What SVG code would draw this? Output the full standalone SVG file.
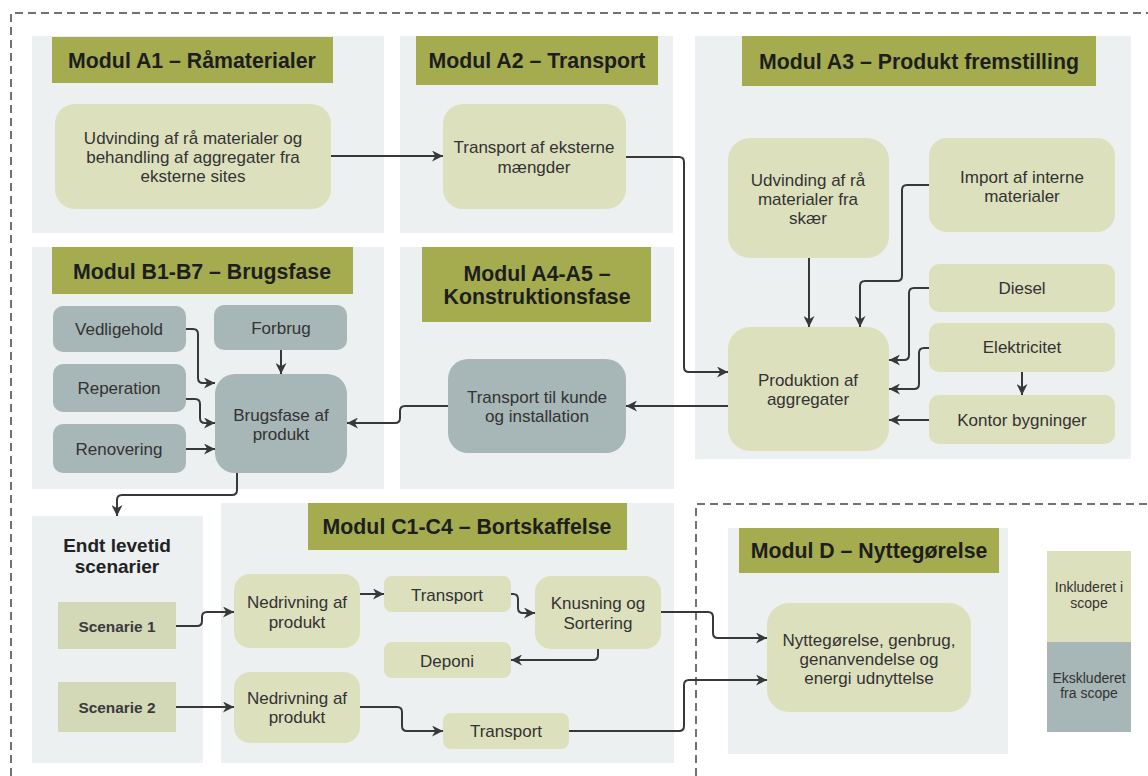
<svg xmlns="http://www.w3.org/2000/svg" width="1148" height="776" viewBox="0 0 1148 776">
<style>
.panel{fill:#ECF0F1}
.title{fill:#A4AC4F}
.inc{fill:#DDE0BD}
.exc{fill:#A7B6B6}
.scen{fill:#D3D8B7}
.tt{font-family:"Liberation Sans",Arial,sans-serif;font-weight:bold;font-size:21.3px;fill:#1E1E1E;text-anchor:middle}
.nt{font-family:"Liberation Sans",Arial,sans-serif;font-size:17px;fill:#333;text-anchor:middle}
.st{font-family:"Liberation Sans",Arial,sans-serif;font-weight:bold;font-size:15.4px;fill:#3a3a3a;text-anchor:middle}
.et{font-family:"Liberation Sans",Arial,sans-serif;font-weight:bold;font-size:19px;fill:#222;text-anchor:middle}
.lt{font-family:"Liberation Sans",Arial,sans-serif;font-size:14px;fill:#333;text-anchor:middle}
.dash{fill:none;stroke:#444;stroke-width:1.5;stroke-dasharray:8 5}
.conn path{fill:none;stroke:#383838;stroke-width:2;marker-end:url(#arr)}
</style>
<defs>
<marker id="arr" viewBox="0 0 10 10" refX="10" refY="5" markerWidth="11" markerHeight="11" markerUnits="userSpaceOnUse" orient="auto">
<path d="M0,0 L10,5 L0,10 L3,5 Z" fill="#383838"/>
</marker>
</defs>
<rect width="1148" height="776" fill="#fff"/>

<g id="scope-lines">
<path class="dash" d="M11,776 V13 H1148"/>
<path class="dash" d="M696,776 V504 H1148"/>
</g>

<g id="panels">
<rect class="panel" x="32" y="36" width="352" height="197"/>
<rect class="panel" x="400" y="36" width="273" height="197"/>
<rect class="panel" x="695" y="36" width="436" height="423"/>
<rect class="panel" x="32" y="247" width="352" height="242"/>
<rect class="panel" x="400" y="247" width="274" height="242"/>
<rect class="panel" x="32" y="516" width="171" height="247"/>
<rect class="panel" x="221" y="503" width="453" height="260"/>
<rect class="panel" x="728" y="528" width="280" height="226"/>
</g>

<g id="title-a1"><rect class="title" x="52" y="37" width="281" height="46"/><text class="tt" x="192" y="68">Modul A1 – Råmaterialer</text></g>
<g id="title-a2"><rect class="title" x="416" y="36" width="242" height="49"/><text class="tt" x="537" y="68">Modul A2 – Transport</text></g>
<g id="title-a3"><rect class="title" x="742" y="36" width="354" height="50"/><text class="tt" x="919" y="69">Modul A3 – Produkt fremstilling</text></g>
<g id="title-b"><rect class="title" x="52" y="247" width="301" height="47"/><text class="tt" x="202" y="279">Modul B1-B7 – Brugsfase</text></g>
<g id="title-a4a5"><rect class="title" x="422" y="247" width="229" height="75"/><text class="tt" x="537" y="281">Modul A4-A5 –</text><text class="tt" x="537" y="304">Konstruktionsfase</text></g>
<g id="title-c"><rect class="title" x="308" y="503" width="319" height="47"/><text class="tt" x="467" y="534">Modul C1-C4 – Bortskaffelse</text></g>
<g id="title-d"><rect class="title" x="739" y="528" width="260" height="45"/><text class="tt" x="869" y="558">Modul D – Nyttegørelse</text></g>

<g id="n-a1"><rect class="inc" x="55" y="104" width="276" height="105" rx="20"/><text class="nt" x="193" y="144">Udvinding af rå materialer og</text><text class="nt" x="193" y="163">behandling af aggregater fra</text><text class="nt" x="193" y="182">eksterne sites</text></g>
<g id="n-a2"><rect class="inc" x="443" y="104" width="183" height="105" rx="20"/><text class="nt" x="534" y="153">Transport af eksterne</text><text class="nt" x="534" y="173">mængder</text></g>
<g id="n-skaer"><rect class="inc" x="728" y="138" width="161" height="120" rx="22"/><text class="nt" x="808" y="186">Udvinding af rå</text><text class="nt" x="808" y="205">materialer fra</text><text class="nt" x="808" y="224">skær</text></g>
<g id="n-import"><rect class="inc" x="929" y="138" width="186" height="94" rx="18"/><text class="nt" x="1022" y="183">Import af interne</text><text class="nt" x="1022" y="202">materialer</text></g>
<g id="n-diesel"><rect class="inc" x="929" y="264" width="186" height="48" rx="10"/><text class="nt" x="1022" y="294">Diesel</text></g>
<g id="n-el"><rect class="inc" x="929" y="323" width="186" height="49" rx="10"/><text class="nt" x="1022" y="353">Elektricitet</text></g>
<g id="n-kontor"><rect class="inc" x="929" y="395" width="186" height="49" rx="10"/><text class="nt" x="1022" y="426">Kontor bygninger</text></g>
<g id="n-prod"><rect class="inc" x="728" y="327" width="161" height="124" rx="22"/><text class="nt" x="808" y="386">Produktion af</text><text class="nt" x="808" y="405">aggregater</text></g>
<g id="n-transport-kunde"><rect class="exc" x="448" y="359" width="178" height="94" rx="20"/><text class="nt" x="537" y="403">Transport til kunde</text><text class="nt" x="537" y="422">og installation</text></g>
<g id="n-brugsfase"><rect class="exc" x="215" y="374" width="132" height="99" rx="20"/><text class="nt" x="281" y="421">Brugsfase af</text><text class="nt" x="281" y="440">produkt</text></g>
<g id="n-vedligehold"><rect class="exc" x="53" y="306" width="133" height="46" rx="10"/><text class="nt" x="119" y="335">Vedligehold</text></g>
<g id="n-forbrug"><rect class="exc" x="214" y="305" width="133" height="45" rx="10"/><text class="nt" x="281" y="334">Forbrug</text></g>
<g id="n-reperation"><rect class="exc" x="53" y="364" width="133" height="48" rx="10"/><text class="nt" x="119" y="394">Reperation</text></g>
<g id="n-renovering"><rect class="exc" x="53" y="424" width="133" height="49" rx="10"/><text class="nt" x="119" y="455">Renovering</text></g>

<g id="n-endt"><text class="et" x="117" y="552">Endt levetid</text><text class="et" x="117" y="573">scenarier</text></g>
<g id="n-scen1"><rect class="scen" x="58" y="602" width="118" height="47"/><text class="st" x="117" y="632">Scenarie 1</text></g>
<g id="n-scen2"><rect class="scen" x="58" y="682" width="118" height="50"/><text class="st" x="117" y="713">Scenarie 2</text></g>
<g id="n-ned1"><rect class="inc" x="234" y="574" width="126" height="74" rx="16"/><text class="nt" x="297" y="608">Nedrivning af</text><text class="nt" x="297" y="628">produkt</text></g>
<g id="n-ned2"><rect class="inc" x="234" y="672" width="126" height="71" rx="16"/><text class="nt" x="297" y="704">Nedrivning af</text><text class="nt" x="297" y="723">produkt</text></g>
<g id="n-transport-c1"><rect class="inc" x="384" y="576" width="127" height="36" rx="8"/><text class="nt" x="447" y="601">Transport</text></g>
<g id="n-knusning"><rect class="inc" x="535" y="576" width="126" height="73" rx="16"/><text class="nt" x="598" y="609">Knusning og</text><text class="nt" x="598" y="629">Sortering</text></g>
<g id="n-deponi"><rect class="inc" x="384" y="642" width="127" height="36" rx="8"/><text class="nt" x="447" y="667">Deponi</text></g>
<g id="n-transport-c2"><rect class="inc" x="443" y="713" width="126" height="36" rx="8"/><text class="nt" x="506" y="737">Transport</text></g>
<g id="n-nytte"><rect class="inc" x="767" y="603" width="204" height="109" rx="22"/><text class="nt" x="869" y="646">Nyttegørelse, genbrug,</text><text class="nt" x="869" y="665">genanvendelse og</text><text class="nt" x="869" y="684">energi udnyttelse</text></g>

<g id="legend">
<rect class="inc" x="1047" y="551" width="84" height="91"/>
<rect class="exc" x="1047" y="642" width="84" height="90"/>
<text class="lt" x="1089" y="592">Inkluderet i</text><text class="lt" x="1089" y="608">scope</text>
<text class="lt" x="1089" y="683">Ekskluderet</text><text class="lt" x="1089" y="698">fra scope</text>
</g>

<g id="connectors" class="conn">
<path d="M331,156 H443"/>
<path d="M626,157 H679 Q684,157 684,162 V367 Q684,372 689,372 H728"/>
<path d="M728,406 H626"/>
<path d="M448,406 H405 Q400,406 400,411 V418 Q400,423 395,423 H347"/>
<path d="M809,258 V327"/>
<path d="M929,185 H907 Q902,185 902,190 V276 Q902,281 897,281 H865 Q860,281 860,286 V327"/>
<path d="M929,288 H914 Q909,288 909,293 V355 Q909,360 904,360 H889"/>
<path d="M929,348 H924 Q919,348 919,353 V384 Q919,389 914,389 H889"/>
<path d="M1022,372 V395"/>
<path d="M929,420 H889"/>
<path d="M186,329 H193 Q198,329 198,334 V378 Q198,383 203,383 H215"/>
<path d="M281,350 V374"/>
<path d="M186,399 H195 Q200,399 200,404 V418 Q200,423 205,423 H215"/>
<path d="M186,449 H215"/>
<path d="M237,473 V490 Q237,495 232,495 H122 Q117,495 117,500 V516"/>
<path d="M176,626 H197 Q202,626 202,621 V617 Q202,612 207,612 H234"/>
<path d="M176,707 H234"/>
<path d="M360,594 H384"/>
<path d="M511,594 H513 Q518,594 518,599 V608 Q518,613 523,613 H535"/>
<path d="M598,649 V655 Q598,660 593,660 H511"/>
<path d="M661,612 H708 Q713,612 713,617 V633 Q713,638 718,638 H767"/>
<path d="M360,707 H397 Q402,707 402,712 V726 Q402,731 407,731 H443"/>
<path d="M569,731 H679 Q684,731 684,726 V685 Q684,680 689,680 H767"/>
</g>
</svg>
